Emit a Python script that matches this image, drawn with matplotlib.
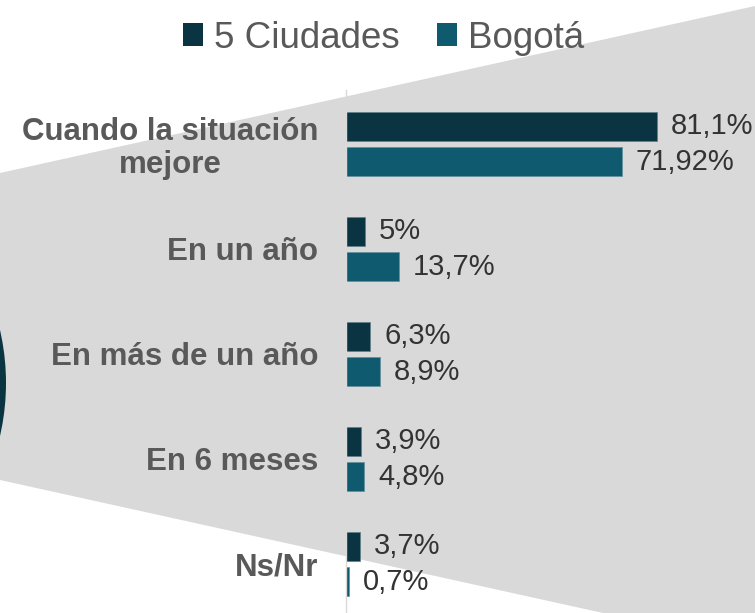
import numpy as np
import matplotlib
matplotlib.use("Agg")
import matplotlib.pyplot as plt
from matplotlib.patches import Polygon, Ellipse, Patch

plt.rcParams['font.family'] = ['Liberation Sans', 'DejaVu Sans']

# datos
categorias = ["Cuando la situación\nmejore", "En un año", "En más de un año", "En 6 meses", "Ns/Nr"]
ciudades5 = [81.1, 5, 6.3, 3.9, 3.7]
bogota = [71.92, 13.7, 8.9, 4.8, 0.7]
series = ["5 Ciudades", "Bogotá"]

c_osc = "#0B3442"
c_teal = "#0F5A6E"
c_fondo = "#D9D9D9"

W, H = 755, 613
fig = plt.figure(figsize=(W / 100, H / 100), dpi=100)

# fondo gris en forma de embudo (coordenadas en pixeles desde arriba)
def px(x, y):
    return (x / W, 1 - y / H)

pts = [px(0, 173), px(755, 6), px(755, 613), px(603, 613), px(0, 480)]
fig.patches.append(Polygon(pts, closed=True, transform=fig.transFigure,
                           facecolor=c_fondo, edgecolor="none", zorder=-2))
# circulo oscuro a la izquierda
r = 237
fig.patches.append(Ellipse(px(-231, 383), 2 * r / W, 2 * r / H, transform=fig.transFigure,
                           facecolor=c_osc, edgecolor="none", zorder=-1))

ax = fig.add_axes([346 / W, 0, (W - 346) / W, (H - 90) / H])
ax.set_facecolor("none")
ax.set_zorder(1)

y = np.arange(len(categorias))
h = 0.276
b1 = ax.barh(y - 0.168, ciudades5, height=h, color=c_osc, edgecolor="#5f7f89", linewidth=0.5)
b2 = ax.barh(y + 0.168, bogota, height=h, color=c_teal, edgecolor="#5f8f9c", linewidth=0.5)

def fmt(v):
    return f"{v:g}".replace(".", ",") + "%"

ax.bar_label(b1, labels=[fmt(v) for v in ciudades5], padding=10, fontsize=21, color="#333333")
ax.bar_label(b2, labels=[fmt(v) for v in bogota], padding=10, fontsize=21, color="#333333")

ax.set_xlim(0, (W - 346) / 3.835)
ax.set_ylim(4.467, -0.514)
ax.set_yticks(y)
ax.set_yticklabels(categorias, fontsize=22.5, fontweight="bold", color="#595959")
for lbl in ax.get_yticklabels():
    lbl.set_multialignment("center")
    lbl.set_linespacing(1.1)
ax.tick_params(axis="y", length=0, pad=20)
ax.set_xticks([])
for s in ["top", "right", "bottom"]:
    ax.spines[s].set_visible(False)
ax.spines["left"].set_color(c_fondo)
ax.spines["left"].set_linewidth(1)

handles = [Patch(facecolor=c_osc), Patch(facecolor=c_teal)]
fig.legend(handles, series, loc="center", bbox_to_anchor=(0.508, 0.938), ncol=2,
           frameon=False, fontsize=26.5, labelcolor="#595959",
           handlelength=0.55, handleheight=0.55, handletextpad=0.3, columnspacing=1.0)

fig.savefig("out.png", dpi=100)
